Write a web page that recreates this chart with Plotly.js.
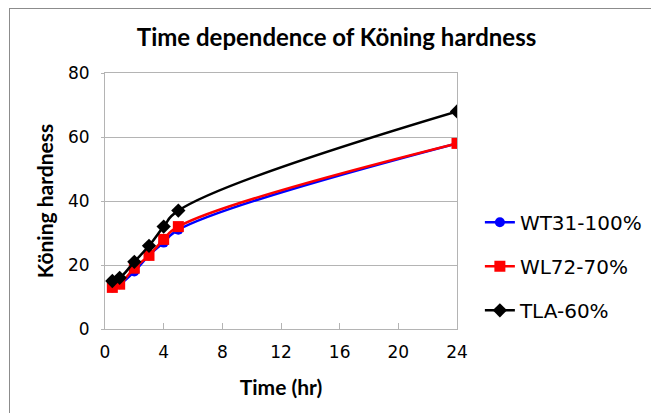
<!DOCTYPE html>
<html>
<head>
<meta charset="utf-8">
<script src="https://cdn.plot.ly/plotly-3.0.1.min.js"></script>
<style>
html,body{margin:0;padding:0;background:#fff;}
#frame{position:absolute;left:9px;top:8px;width:700px;height:500px;border-left:1px solid #8c8c8c;border-top:1px solid #8c8c8c;}
#chart{position:absolute;left:0;top:0;width:651px;height:413px;}
</style>
</head>
<body>
<div id="frame"></div>
<div id="chart"></div>
<script>
const timeHr = [0.5, 1, 2, 3, 4, 5, 24];
const wt31 = [13, 14, 18, 23, 27, 31, 58];
const wl72 = [13, 14, 19, 23, 28, 32, 58];
const tla = [15, 16, 21, 26, 32, 37, 68];
const seriesNames = ['WT31-100%', 'WL72-70%', 'TLA-60%'];
const xTicks = [0, 4, 8, 12, 16, 20, 24];
const yTicks = [0, 20, 40, 60, 80];

const tickFont = {family: 'DejaVu Sans, sans-serif', size: 17, color: '#000'};
const boldFont = {family: 'Lato, Open Sans, sans-serif', size: 21, color: '#000', weight: 'bold'};

const traces = [
  {x: timeHr, y: wt31, name: seriesNames[0], legendgroup: 'a', mode: 'lines+markers',
   line: {color: '#0000ff', width: 2.5, shape: 'spline', smoothing: 1.3},
   marker: {symbol: 'circle', size: 10, color: '#0000ff'}},
  {x: timeHr, y: wl72, name: seriesNames[1], legendgroup: 'b', mode: 'lines+markers',
   line: {color: '#ff0000', width: 2.5, shape: 'spline', smoothing: 1.3},
   marker: {symbol: 'square', size: 11, color: '#ff0000'}},
  {x: timeHr, y: tla, name: seriesNames[2], legendgroup: 'c', mode: 'lines+markers',
   line: {color: '#000000', width: 2.5, shape: 'spline', smoothing: 1.3},
   marker: {symbol: 'diamond', size: 11, color: '#000000'}}
];

const layout = {
  width: 651, height: 413,
  paper_bgcolor: 'rgba(0,0,0,0)', plot_bgcolor: '#fff',
  margin: {l: 105, r: 194, t: 73, b: 84, autoexpand: false},
  showlegend: true,
  title: {text: 'Time dependence of Köning hardness', font: Object.assign({}, boldFont, {size: 24}),
          xref: 'container', x: 0.517, xanchor: 'center', yref: 'container', y: 0.91, yanchor: 'middle'},
  xaxis: {range: [0, 24], tickvals: xTicks, ticktext: xTicks.map(String), tickfont: tickFont,
          showgrid: false, zeroline: false, showline: true, linecolor: '#b4b4b4', linewidth: 1, mirror: true,
          ticks: 'inside', ticklen: 6, tickcolor: '#b4b4b4', tickwidth: 1, automargin: false,
          ticklabelstandoff: 8,
          title: {text: 'Time (hr)', font: boldFont, standoff: 18}},
  yaxis: {range: [0, 80], tickvals: yTicks, ticktext: yTicks.map(String), tickfont: tickFont,
          showgrid: true, gridcolor: '#b4b4b4', gridwidth: 1, zeroline: false,
          showline: true, linecolor: '#b4b4b4', linewidth: 1, mirror: true,
          ticks: 'outside', ticklen: 3, tickcolor: '#b4b4b4', automargin: false,
          ticklabelstandoff: 8,
          title: {text: 'Köning hardness', font: boldFont, standoff: 8}},
  legend: {x: 1.065, xanchor: 'left', y: 0.245, yanchor: 'middle', font: {family: 'DejaVu Sans, sans-serif', size: 20, color: '#000'},
           tracegroupgap: 15, bgcolor: 'rgba(0,0,0,0)', borderwidth: 0}
};

Plotly.newPlot('chart', traces, layout, {staticPlot: true, displayModeBar: false});
</script>
</body>
</html>
